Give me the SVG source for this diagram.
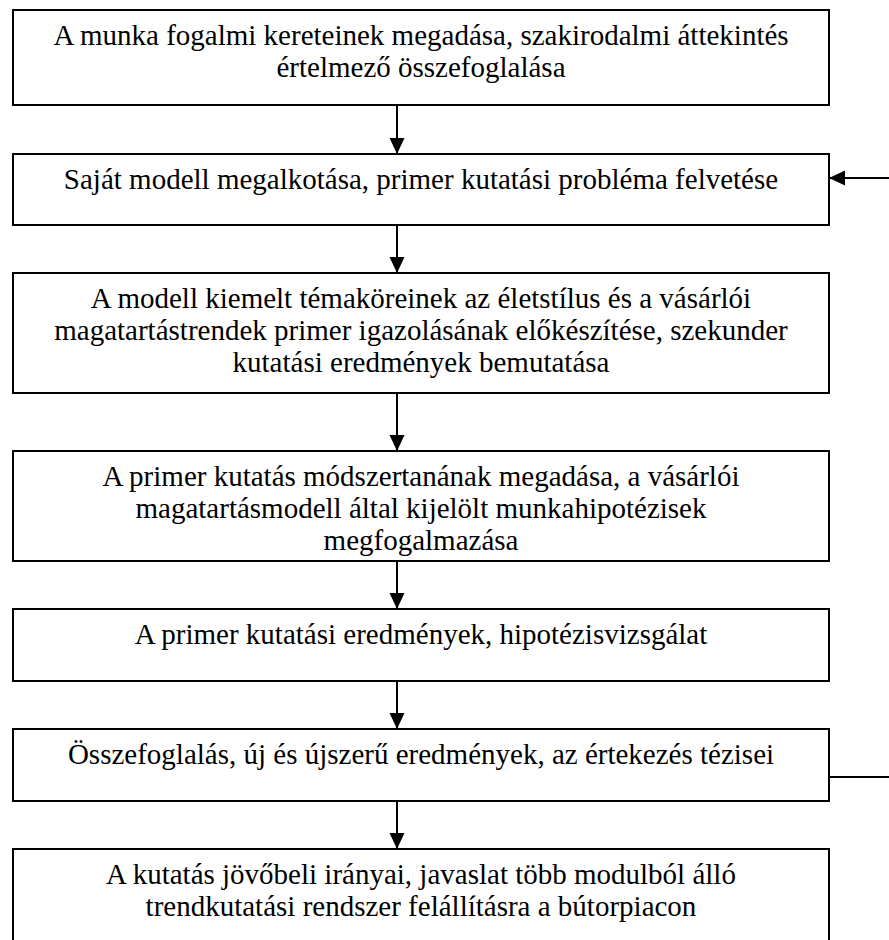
<svg xmlns="http://www.w3.org/2000/svg" width="889" height="940" viewBox="0 0 889 940">
  <style>
    .box rect { fill: #ffffff; stroke: #000000; stroke-width: 2; }
    .box text { font-size: 29px; fill: #000000; text-anchor: middle; }
    .conn { fill: none; stroke: #000000; stroke-width: 2; }
  </style>
  <defs>
    <marker id="arrow" markerUnits="userSpaceOnUse" markerWidth="16" markerHeight="16" refX="16" refY="7.5" orient="auto">
      <path d="M0,0 L16,7.5 L0,15 Z" fill="#000000"/>
    </marker>
  </defs>
  <rect width="889" height="940" fill="#ffffff"/>

  <g font-family="'Liberation Serif', 'Times New Roman', 'DejaVu Serif', serif">
  <g id="n1" class="box">
    <rect x="13" y="10" width="816" height="95"/>
    <text x="421" y="45">A munka fogalmi kereteinek megadása, szakirodalmi áttekintés</text>
    <text x="421" y="77">értelmező összefoglalása</text>
  </g>
  <g id="n2" class="box">
    <rect x="13" y="154" width="816" height="71"/>
    <text x="421" y="189">Saját modell megalkotása, primer kutatási probléma felvetése</text>
  </g>
  <g id="n3" class="box">
    <rect x="13" y="273" width="816" height="120"/>
    <text x="421" y="308">A modell kiemelt témaköreinek az életstílus és a vásárlói</text>
    <text x="421" y="340">magatartástrendek primer igazolásának előkészítése, szekunder</text>
    <text x="421" y="372">kutatási eredmények bemutatása</text>
  </g>
  <g id="n4" class="box">
    <rect x="13" y="451" width="816" height="110"/>
    <text x="421" y="486">A primer kutatás módszertanának megadása, a vásárlói</text>
    <text x="421" y="518">magatartásmodell által kijelölt munkahipotézisek</text>
    <text x="421" y="550">megfogalmazása</text>
  </g>
  <g id="n5" class="box">
    <rect x="13" y="609" width="816" height="72"/>
    <text x="421" y="644">A primer kutatási eredmények, hipotézisvizsgálat</text>
  </g>
  <g id="n6" class="box">
    <rect x="13" y="729" width="816" height="72"/>
    <text x="421" y="764">Összefoglalás, új és újszerű eredmények, az értekezés tézisei</text>
  </g>
  <g id="n7" class="box">
    <rect x="13" y="849" width="816" height="110"/>
    <text x="421" y="884">A kutatás jövőbeli irányai, javaslat több modulból álló</text>
    <text x="421" y="916">trendkutatási rendszer felállításra a bútorpiacon</text>
  </g>
  </g>

  <g id="connectors">
    <line class="conn" x1="397" y1="105" x2="397" y2="154" marker-end="url(#arrow)"/>
    <line class="conn" x1="397" y1="225" x2="397" y2="273" marker-end="url(#arrow)"/>
    <line class="conn" x1="397" y1="393" x2="397" y2="451" marker-end="url(#arrow)"/>
    <line class="conn" x1="397" y1="561" x2="397" y2="609" marker-end="url(#arrow)"/>
    <line class="conn" x1="397" y1="681" x2="397" y2="729" marker-end="url(#arrow)"/>
    <line class="conn" x1="397" y1="801" x2="397" y2="849" marker-end="url(#arrow)"/>
    <!-- feedback loop from the summary back to the model, leaving the page on the right -->
    <line class="conn" x1="829" y1="777" x2="889" y2="777"/>
    <line class="conn" x1="889" y1="178" x2="829" y2="178" marker-end="url(#arrow)"/>
  </g>
</svg>
